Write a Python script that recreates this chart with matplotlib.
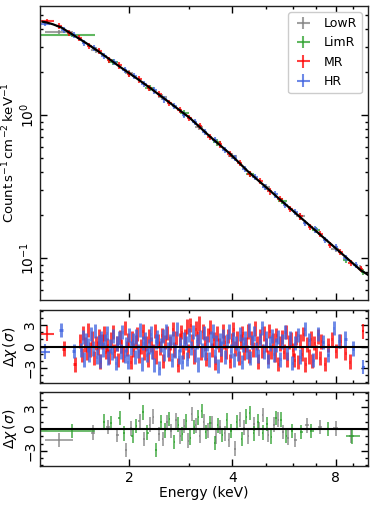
import numpy as np
import matplotlib
matplotlib.use("Agg")
import matplotlib.pyplot as plt
from matplotlib.ticker import ScalarFormatter, NullFormatter, FixedLocator, MultipleLocator

# ---- model curve (keV, counts/s/cm2/keV) ----
model_e = [1.12, 1.15, 1.20, 1.27, 1.34, 1.43, 1.50, 1.64, 1.75, 1.87,
           2.00, 2.14, 2.29, 2.45, 2.63, 2.81, 3.01, 3.21, 3.44, 3.68,
           3.93, 4.21, 4.44, 4.82, 5.15, 5.51, 5.90, 6.31, 6.75, 7.23,
           7.73, 8.27, 8.85, 9.47, 9.95]
model_f = [4.50, 4.45, 4.32, 4.10, 3.78, 3.43, 3.19, 2.76, 2.47, 2.20,
           1.97, 1.76, 1.566, 1.387, 1.22, 1.082, 0.955, 0.828, 0.71, 0.618,
           0.54, 0.459, 0.405, 0.341, 0.297, 0.257, 0.223, 0.1936, 0.168, 0.1455,
           0.1264, 0.1097, 0.0951, 0.0825, 0.0765]

# ---- spectra (top panel) ----
mr_e = [1.25, 1.34, 1.43, 1.53, 1.64, 1.75, 1.87, 2.00, 2.14, 2.29,
        2.45, 2.62, 2.81, 3.00, 3.21, 3.44, 3.68, 3.93, 4.21, 4.50,
        4.82, 5.15, 5.51, 5.90, 6.31, 6.75, 7.23, 7.73, 8.27, 8.85, 9.47]
mr_f = [4.22, 3.74, 3.47, 3.05, 2.80, 2.44, 2.23, 1.95, 1.78, 1.55,
        1.40, 1.215, 1.095, 0.952, 0.840, 0.703, 0.625, 0.534, 0.465, 0.390,
        0.346, 0.293, 0.261, 0.220, 0.196, 0.165, 0.148, 0.124, 0.111, 0.093, 0.084]
hr_e = [1.29, 1.38, 1.48, 1.58, 1.69, 1.81, 1.94, 2.07, 2.21, 2.37,
        2.53, 2.71, 2.90, 3.11, 3.32, 3.56, 3.80, 4.07, 4.35, 4.66,
        4.98, 5.33, 5.70, 6.10, 6.53, 6.98, 7.47, 8.00, 8.56, 9.16]
hr_f = [3.96, 3.66, 3.22, 2.97, 2.59, 2.36, 2.06, 1.88, 1.645, 1.49,
        1.29, 1.162, 1.01, 0.898, 0.760, 0.669, 0.572, 0.503, 0.421, 0.370,
        0.314, 0.279, 0.237, 0.211, 0.177, 0.159, 0.134, 0.119, 0.100, 0.090]
lowr_e = [1.60, 2.00, 2.50, 3.20, 4.00, 5.00, 6.30, 8.00, 9.40]
lowr_f = [2.86, 1.96, 1.34, 0.83, 0.52, 0.316, 0.196, 0.116, 0.085]
limr_e = [1.80, 2.30, 2.90, 3.60, 4.50, 5.60, 7.00, 8.60, 9.60]
limr_f = [2.36, 1.55, 1.03, 0.645, 0.39, 0.25, 0.158, 0.097, 0.080]

# wide first bins: centre, low edge, high edge, flux
spec_wide = {
    "LowR": (1.25, 1.14, 1.37, 3.80),
    "LimR": (1.36, 1.10, 1.59, 3.63),
    "MR": (1.15, 1.10, 1.21, 4.54),
    "HR": (1.14, 1.10, 1.18, 4.33),
}

# ---- residuals, middle panel ----
mr_res_e = [1.29, 1.39,
            1.44, 1.46, 1.47, 1.49, 1.51, 1.52, 1.54, 1.56, 1.58, 1.60,
            1.62, 1.64, 1.65, 1.67, 1.69, 1.71, 1.73, 1.75, 1.77, 1.79,
            1.81, 1.84, 1.86, 1.88, 1.90, 1.92, 1.95, 1.97, 1.99, 2.02,
            2.04, 2.06, 2.09, 2.11, 2.14, 2.16, 2.19, 2.21, 2.24, 2.27,
            2.29, 2.32, 2.35, 2.38, 2.40, 2.43, 2.46, 2.49, 2.52, 2.55,
            2.58, 2.61, 2.64, 2.68, 2.71, 2.74, 2.77, 2.81, 2.84, 2.88,
            2.91, 2.95, 2.98, 3.02, 3.05, 3.09, 3.13, 3.17, 3.20, 3.24,
            3.28, 3.32, 3.36, 3.40, 3.44, 3.49, 3.53, 3.57, 3.61, 3.66,
            3.70, 3.75, 3.79, 3.84, 3.89, 3.93, 3.98, 4.03, 4.08, 4.13,
            4.18, 4.23, 4.28, 4.33, 4.38, 4.44, 4.49, 4.55, 4.60, 4.66,
            4.71, 4.77, 4.83, 4.89, 4.95, 5.01, 5.07, 5.13, 5.19, 5.25,
            5.32, 5.38, 5.45, 5.51, 5.58, 5.65, 5.72, 5.79, 5.86, 5.93,
            6.00, 6.07, 6.15, 6.22, 6.30, 6.37, 6.45, 6.53, 6.61, 6.69,
            6.77, 6.85, 6.94, 7.02, 7.11, 7.19, 7.28, 7.45, 7.62, 7.80,
            8.00, 8.25, 8.55, 8.80]
mr_res = [-0.3, -2.5,
          0.8, -1.2, 1.9, 0.3, -0.9, 2.3, -0.4, 1.1, -1.6, 0.5,
          -0.2, 1.4, -2.1, 0.7, 1.8, -0.8, 0.2, -1.4, 1.0, 2.0,
          -0.6, 0.4, -1.9, 1.3, 0.1, -1.1, 2.6, -0.3, 0.9, -2.2,
          1.2, -0.5, 0.6, 1.7, -1.3, 0.0, 2.1, -0.9, 0.4, -1.8,
          1.5, 0.3, -0.7, 2.2, -1.5, 0.8, -0.2, 1.6, -2.0, 0.6,
          1.9, -1.0, 0.5, 2.4, -0.4, 1.2, -2.6, 0.9, 2.0, -0.8,
          1.4, 2.8, -0.6, 3.0, 0.7, -1.4, 2.5, 1.1, 3.2, -0.9,
          2.1, 0.4, -1.7, 1.6, 2.7, -0.5, 1.0, -2.3, 1.8, 0.2,
          -1.2, 2.2, 0.6, -0.8, 1.5, -2.0, 0.9, 2.4, -0.3, 1.1,
          -1.6, 0.7, 1.9, -0.9, 0.3, 2.1, -1.3, 1.2, -0.4, 2.5,
          0.5, -2.1, 1.4, -0.6, 1.8, 0.2, -1.5, 2.2, -0.8, 0.9,
          -1.1, 1.6, -2.4, 0.4, 1.3, -0.7, 2.0, -1.8, 0.6, 1.0,
          -0.5, -1.9, 1.2, -2.2, 0.8, -1.0, 1.7, -2.5, 0.3, -1.4,
          1.1, -2.0, 0.5, -0.8, 1.4, -1.6, 0.7, -2.4, 0.2, 1.0,
          -0.6, 0.8, -0.9, -2.1]
hr_res_e = [1.27, 1.38,
            1.45, 1.47, 1.48, 1.50, 1.52, 1.53, 1.55, 1.57, 1.59, 1.61,
            1.63, 1.65, 1.66, 1.68, 1.70, 1.72, 1.74, 1.76, 1.78, 1.80,
            1.83, 1.85, 1.87, 1.89, 1.91, 1.94, 1.96, 1.98, 2.00, 2.03,
            2.05, 2.08, 2.10, 2.13, 2.15, 2.18, 2.20, 2.23, 2.25, 2.28,
            2.31, 2.34, 2.36, 2.39, 2.42, 2.45, 2.48, 2.51, 2.53, 2.56,
            2.60, 2.63, 2.66, 2.69, 2.72, 2.76, 2.79, 2.82, 2.86, 2.89,
            2.93, 2.96, 3.00, 3.03, 3.07, 3.11, 3.15, 3.18, 3.22, 3.26,
            3.30, 3.34, 3.38, 3.42, 3.47, 3.51, 3.55, 3.59, 3.64, 3.68,
            3.72, 3.77, 3.82, 3.86, 3.91, 3.96, 4.01, 4.05, 4.10, 4.15,
            4.21, 4.26, 4.31, 4.36, 4.41, 4.47, 4.52, 4.58, 4.63, 4.69,
            4.75, 4.81, 4.87, 4.94, 5.00, 5.07, 5.14, 5.21, 5.28, 5.36,
            5.44, 5.52, 5.60, 5.69, 5.78, 5.88, 5.98, 6.09, 6.20, 6.32,
            6.50, 6.70, 6.90, 7.10, 7.35, 7.60, 7.90, 8.20, 8.55, 9.00]
hr_res = [2.3, -0.6,
          -0.5, 1.3, -1.8, 0.9, 0.2, -1.1, 1.7, -0.3, 2.2, -1.4,
          0.6, -2.0, 1.1, -0.4, 0.8, 1.9, -1.6, 0.1, -0.9, 1.5,
          -2.3, 0.4, 1.2, -0.7, 2.0, -1.3, 0.3, -2.1, 1.6, -0.2,
          0.9, -1.5, 1.4, -0.6, 2.3, -2.4, 0.5, 1.0, -1.2, 0.0,
          1.8, -0.8, -2.6, 0.7, 1.3, -3.0, 0.2, 1.5, -1.0, 2.1,
          -0.4, 0.8, -1.9, 1.2, -0.6, 2.4, -1.4, 0.3, -2.2, 1.0,
          0.5, -1.7, 1.6, -0.2, 2.0, -1.1, 0.7, -2.5, 1.3, -0.5,
          1.9, -0.9, 0.4, -1.8, 1.1, 2.2, -1.3, 0.6, -2.7, 0.9,
          -0.3, 1.4, -1.5, 0.8, 2.1, -0.6, 1.0, -1.9, 0.5, -1.0,
          1.7, -2.2, 0.3, 1.2, -0.8, 2.3, -1.6, 0.6, 1.8, -0.4,
          -1.3, 0.9, 2.6, -0.7, 1.1, -2.0, 0.4, 1.5, -1.1, 0.2,
          1.3, -1.8, 0.7, 2.0, -0.9, 1.2, -2.3, 0.5, 1.6, -1.4,
          2.4, 0.9, -1.9, 1.7, 0.6, -1.2, 2.6, 0.8, 1.1, -0.3]

# ---- residuals, bottom panel ----
lowr_res_e = [1.57, 1.74, 1.85, 1.96, 2.02, 2.15, 2.21, 2.30, 2.35, 2.45,
              2.51, 2.58, 2.65, 2.74, 2.82, 2.90, 2.98, 3.05, 3.13, 3.21,
              3.30, 3.39, 3.48, 3.58, 3.68, 3.80, 3.90, 4.07, 4.20, 4.33,
              4.46, 4.62, 4.80, 4.90, 5.10, 5.30, 5.45, 5.62, 5.80, 6.10,
              6.60, 7.20, 8.00, 8.90]
lowr_res = [-0.5, 0.3, -0.8, -2.9, 0.1, 1.1, -1.4, 0.6, 1.7, -0.7,
            -1.4, 0.9, -0.3, 1.2, -1.0, 0.4, -1.6, 2.1, 0.5, -0.9,
            1.0, -0.2, 0.8, -1.1, 0.3, -0.6, -1.5, -2.7, 1.3, 0.2,
            -1.0, 0.7, 0.0, 1.9, -0.8, 0.6, 1.3, -0.4, -1.2, -1.5,
            0.5, 0.3, 0.1, -0.9]
limr_res_e = [1.69, 1.77, 1.88, 1.93, 2.05, 2.10, 2.20, 2.26, 2.40, 2.48,
              2.55, 2.62, 2.71, 2.78, 2.86, 2.94, 3.02, 3.10, 3.18, 3.26,
              3.35, 3.44, 3.56, 3.63, 3.74, 3.85, 3.97, 4.12, 4.26, 4.40,
              4.50, 4.62, 4.75, 4.90, 5.05, 5.20, 5.37, 5.55, 5.75, 5.96,
              6.35, 6.80, 7.60]
limr_res = [1.0, 0.8, 1.5, -0.6, -0.9, 0.4, 2.3, -0.5, -2.9, 0.9,
            -0.2, 1.4, -1.8, 0.6, -0.7, 1.1, -1.2, 0.3, 1.6, 2.5,
            -0.4, 0.8, -1.9, 0.5, -0.8, 1.2, -0.3, 0.9, -1.4, 1.7,
            2.2, -0.6, 1.0, -0.5, 0.7, -1.1, 1.5, 1.3, -0.9, -0.3,
            -0.4, -0.3, 0.0]

# wide residual bins: centre, low edge, high edge, residual
res_wide = {
    "LowR": [(1.25, 1.14, 1.37, -1.5)],
    "LimR": [(1.36, 1.10, 1.59, -0.3), (8.96, 8.60, 9.40, -1.0)],
    "MR": [(1.15, 1.10, 1.21, 1.8), (9.62, 9.55, 9.70, 2.1)],
    "HR": [(1.14, 1.10, 1.18, -0.7), (9.64, 9.57, 9.72, -2.9)],
}

colors = {"LowR": "#808080", "LimR": "#2ca02c", "MR": "#ff0000", "HR": "#3d62e0"}
ALPHA = 0.75


def halfwidths(e, frac=0.5):
    # half bin widths towards the geometric midpoints of the neighbours
    e = np.asarray(e, float)
    mid = np.sqrt(e[1:] * e[:-1])
    lo = np.empty_like(e)
    hi = np.empty_like(e)
    lo[1:] = e[1:] - mid
    hi[:-1] = mid - e[:-1]
    lo[0] = hi[0]
    hi[-1] = lo[-1]
    return frac * lo, frac * hi


fig = plt.figure(figsize=(3.74, 5.05), dpi=100)
L, W = 40 / 374, 328 / 374
ax1 = fig.add_axes([L, 1 - 300 / 505, W, 294 / 505])
ax2 = fig.add_axes([L, 1 - 383 / 505, W, 73 / 505])
ax3 = fig.add_axes([L, 1 - 466 / 505, W, 74 / 505])

# top panel: spectra
spectra = [("LowR", lowr_e, lowr_f, 0.25), ("LimR", limr_e, limr_f, 0.25),
           ("MR", mr_e, mr_f, 0.5), ("HR", hr_e, hr_f, 0.5)]
for name, e, f, frac in spectra:
    lo, hi = halfwidths(e, frac)
    f = np.asarray(f)
    ax1.errorbar(e, f, xerr=[lo, hi], yerr=0.05 * f, fmt="none",
                 ecolor=colors[name], alpha=ALPHA, lw=1.5, label=name)
    c, a, b, v = spec_wide[name]
    ax1.errorbar([c], [v], xerr=[[c - a], [b - c]], yerr=[0.035 * v], fmt="none",
                 ecolor=colors[name], alpha=ALPHA, lw=1.5)
ax1.plot(model_e, model_f, color="black", lw=1.6, zorder=5)
ax1.set_yscale("log")
ax1.set_ylim(0.051, 5.8)
ax1.set_ylabel(r"Count$\,$s$^{-1}\,$cm$^{-2}\,$keV$^{-1}$", fontsize=9.5)
ax1.yaxis.set_label_coords(-0.07, 0.5)
ax1.legend(loc="upper right", fontsize=9, handlelength=1.6,
           framealpha=1, edgecolor="#cccccc")

# middle panel: MR / HR residuals
for name, e, r in [("MR", mr_res_e, mr_res), ("HR", hr_res_e, hr_res)]:
    lo, hi = halfwidths(e, 0.3)
    ax2.errorbar(e, r, xerr=[lo, hi], yerr=1.0, fmt="none",
                 ecolor=colors[name], alpha=ALPHA, lw=2.1)
    for c, a, b, v in res_wide[name]:
        ax2.errorbar([c], [v], xerr=[[c - a], [b - c]], yerr=1.0, fmt="none",
                     ecolor=colors[name], alpha=ALPHA, lw=1.5)

# bottom panel: LowR / LimR residuals
for name, e, r in [("LowR", lowr_res_e, lowr_res), ("LimR", limr_res_e, limr_res)]:
    lo, hi = halfwidths(e, 0.3)
    ax3.errorbar(e, r, xerr=[lo, hi], yerr=1.0, fmt="none",
                 ecolor=colors[name], alpha=ALPHA, lw=1.3)
    for c, a, b, v in res_wide[name]:
        ax3.errorbar([c], [v], xerr=[[c - a], [b - c]], yerr=1.0, fmt="none",
                     ecolor=colors[name], alpha=ALPHA, lw=1.3)

for ax in (ax2, ax3):
    ax.axhline(0, color="black", lw=1.5, zorder=5)
    ax.set_ylim(-5.1, 5.1)
    ax.yaxis.set_major_locator(FixedLocator([-3, 0, 3]))
    ax.yaxis.set_minor_locator(MultipleLocator(1))
    ax.set_ylabel(r"$\Delta\chi\,(\sigma)$", fontsize=10)
    ax.yaxis.set_label_coords(-0.065, 0.5)

for ax in (ax1, ax2, ax3):
    ax.set_xscale("log")
    ax.set_xlim(1.1, 9.95)
    ax.xaxis.set_major_locator(FixedLocator([2, 4, 8]))
    ax.xaxis.set_major_formatter(ScalarFormatter())
    ax.xaxis.set_minor_formatter(NullFormatter())
    ax.tick_params(which="both", direction="in", top=True, right=True,
                   labelsize=10, width=1.0)
    ax.tick_params(which="major", length=5)
    ax.tick_params(which="minor", length=2.5)
    ax.tick_params(axis="y", labelrotation=90, pad=2)
    for lab in ax.get_yticklabels():
        lab.set_va("center")
    for s in ax.spines.values():
        s.set_linewidth(1.0)
        s.set_color("#222222")

ax1.tick_params(labelbottom=False)
ax2.tick_params(labelbottom=False)
ax3.set_xlabel("Energy (keV)", fontsize=10, labelpad=1)

fig.savefig("out.png", dpi=100)
